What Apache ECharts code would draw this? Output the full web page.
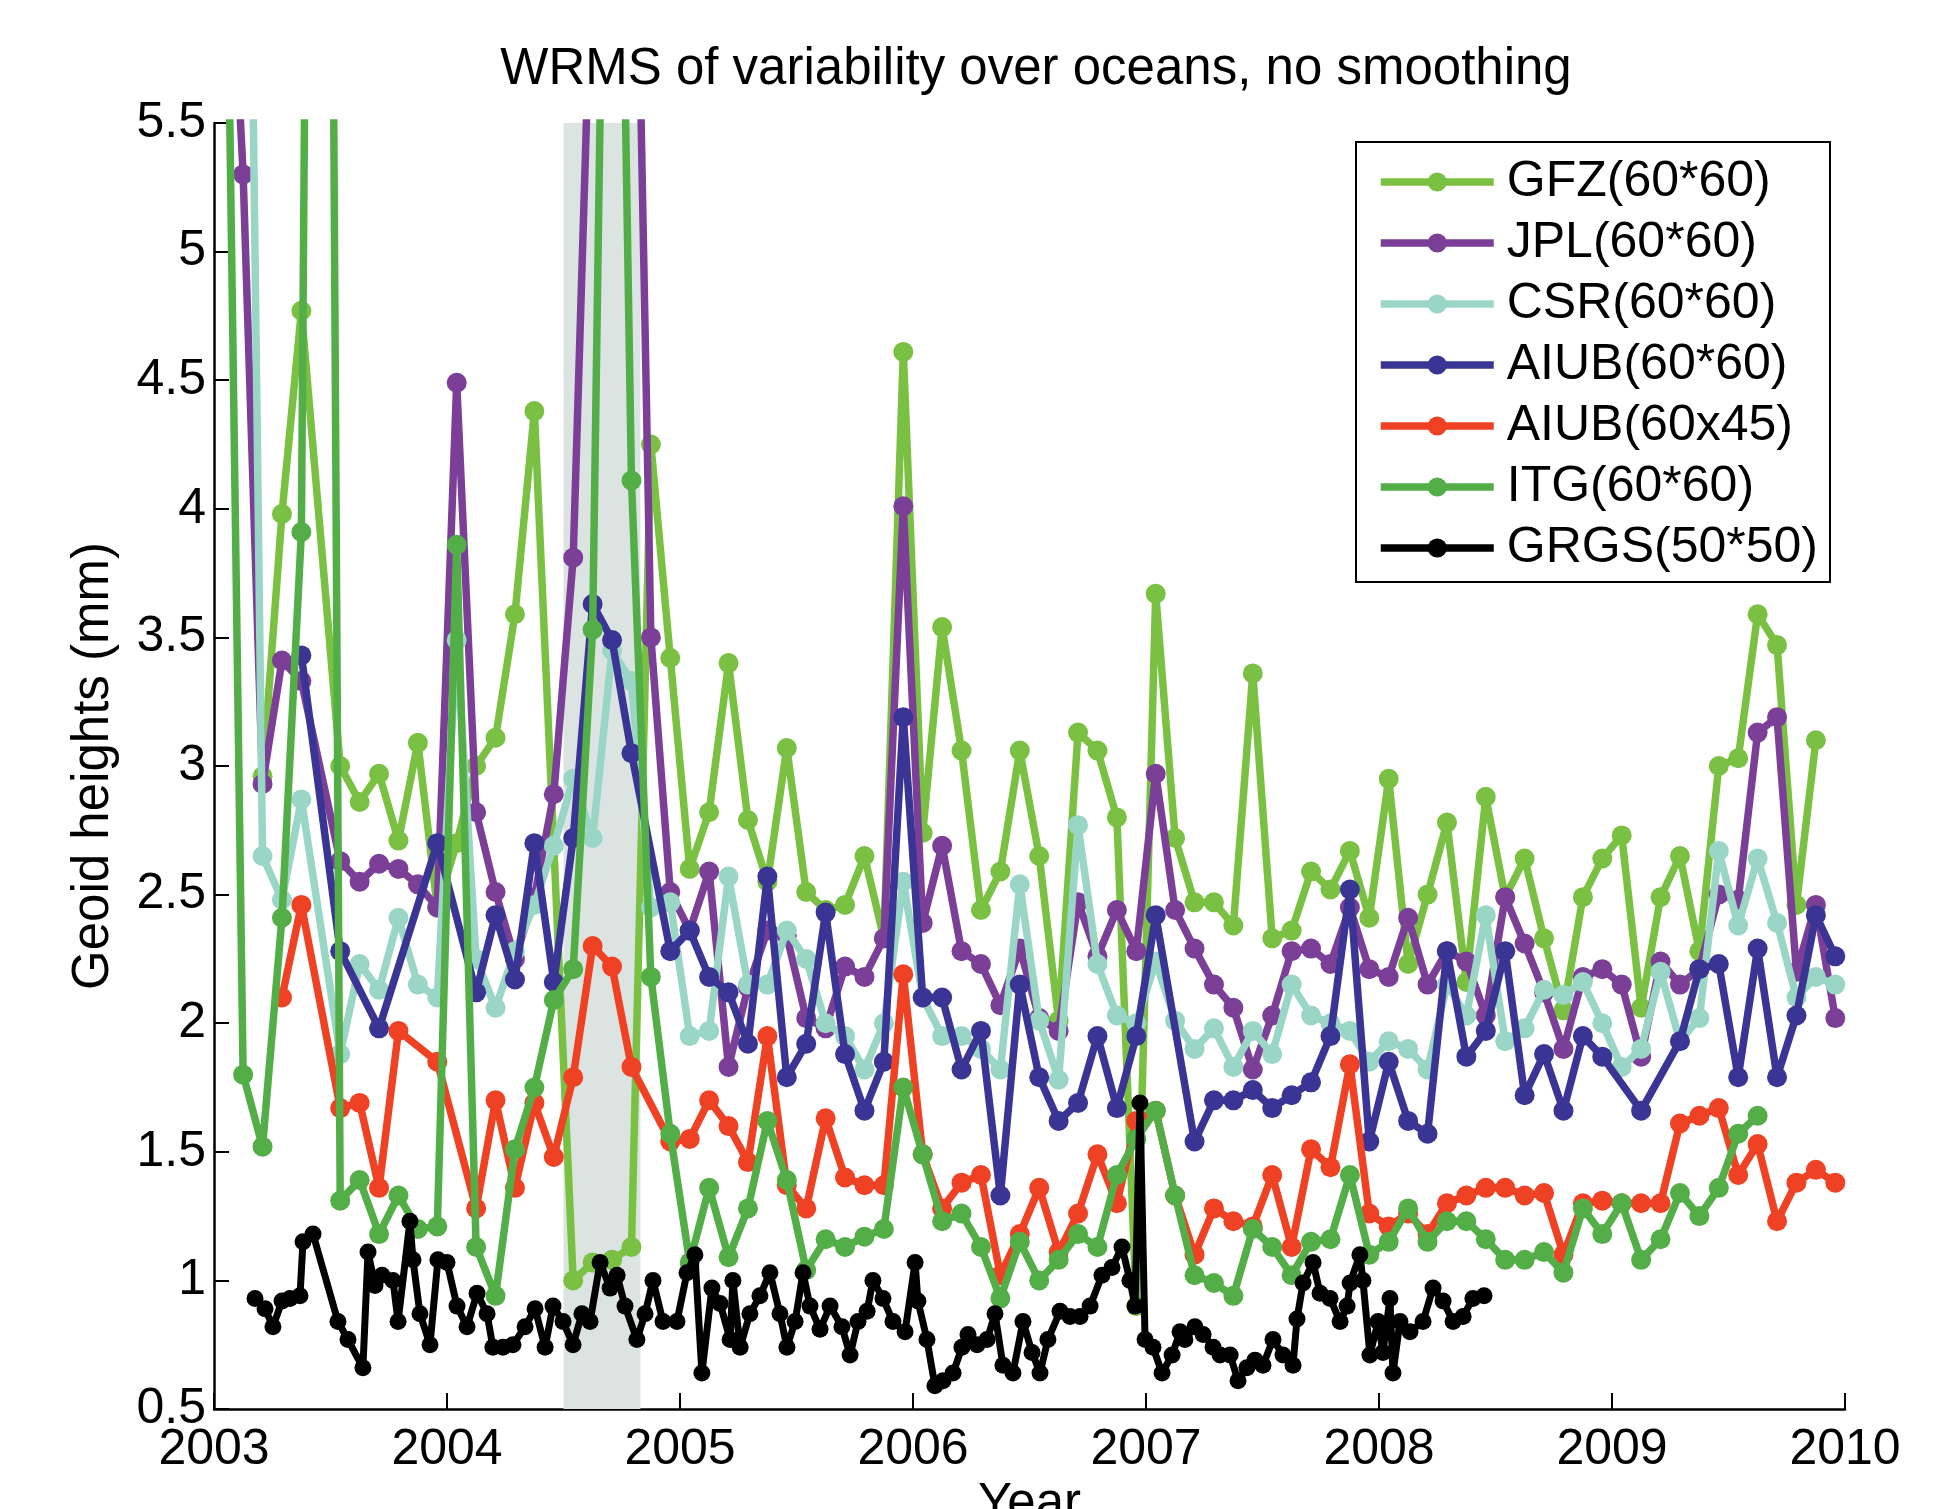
<!DOCTYPE html>
<html><head><meta charset="utf-8">
<script src="https://cdn.jsdelivr.net/npm/echarts@6/dist/echarts.min.js"></script>
<style>html,body{margin:0;padding:0;background:#fff}#c{width:1960px;height:1509px}</style>
</head><body><div id="c"></div>
<script>
const years = [2003, 2004, 2005, 2006, 2007, 2008, 2009];
const seriesNames = ['GFZ(60*60)', 'JPL(60*60)', 'CSR(60*60)', 'AIUB(60*60)', 'AIUB(60x45)', 'ITG(60*60)', 'GRGS(50*50)'];
const seriesColors = ['#7ac143', '#7b3f98', '#9ad6c6', '#3a3494', '#ef4123', '#53ae48', '#000000'];
const shadedPeriod = [2004.50, 2004.83];

// monthly values, Jan 2003 .. Dec 2009 (null = no solution)
const gfz = [
  null, null, 2.96, 3.98, 4.77, null, 3.00, 2.86, 2.97, 2.71, 3.09, 2.45,
  2.70, 3.00, 3.11, 3.59, 4.38, null, 1.00, 1.07, 1.08, 1.13, 4.25, 3.42,
  2.60, 2.82, 3.40, 2.79, 2.55, 3.07, 2.51, 2.44, 2.46, 2.65, 2.33, 4.61,
  2.74, 3.54, 3.06, 2.44, 2.59, 3.06, 2.65, 2.01, 3.13, 3.06, 2.80, 0.90,
  3.67, 2.72, 2.47, 2.47, 2.38, 3.36, 2.33, 2.36, 2.59, 2.52, 2.67, 2.41,
  2.95, 2.23, 2.50, 2.78, 2.16, 2.88, 2.49, 2.64, 2.33, 2.05, 2.49, 2.64,
  2.73, 2.06, 2.49, 2.65, 2.28, 3.00, 3.03, 3.59, 3.47, 2.46, 3.10, null
];
const jpl = [
  6.80, 5.30, 2.93, 3.41, 3.33, null, 2.63, 2.55, 2.62, 2.60, 2.54, 2.45,
  4.49, 2.82, 2.51, 2.25, 2.49, 2.89, 3.81, 6.30, 9.00, 7.50, 3.50, 2.51,
  2.36, 2.59, 1.83, 2.14, 2.36, 2.34, 2.02, 1.98, 2.22, 2.18, 2.33, 4.01,
  2.39, 2.69, 2.28, 2.23, 2.07, 2.29, 2.02, 1.97, 2.47, 2.26, 2.44, 2.28,
  2.97, 2.44, 2.29, 2.15, 2.06, 1.82, 2.03, 2.28, 2.29, 2.23, 2.45, 2.21,
  2.18, 2.41, 2.15, 2.28, 2.24, 2.03, 2.49, 2.31, 2.12, 1.90, 2.18, 2.21,
  2.15, 1.87, 2.24, 2.15, 2.21, 2.50, 2.48, 3.13, 3.19, 2.20, 2.46, 2.02
];
const csr = [
  null, 8.70, 2.65, 2.48, 2.87, null, 1.88, 2.23, 2.13, 2.41, 2.15, 2.10,
  3.49, 2.25, 2.06, 2.28, 2.46, 2.69, 2.95, 2.72, 3.45, 3.33, 2.45, 2.47,
  1.95, 1.97, 2.57, 2.15, 2.15, 2.36, 2.25, 2.00, 1.95, 1.82, 2.00, 2.55,
  2.10, 1.95, 1.95, 1.90, 1.82, 2.54, 2.01, 1.78, 2.77, 2.23, 2.03, 2.00,
  2.24, 2.01, 1.90, 1.98, 1.83, 1.97, 1.88, 2.15, 2.03, 2.00, 1.97, 1.85,
  1.93, 1.90, 1.82, 2.15, 2.03, 2.42, 1.93, 1.98, 2.13, 2.11, 2.16, 2.00,
  1.83, 1.90, 2.20, 1.93, 2.02, 2.67, 2.38, 2.64, 2.39, 2.10, 2.18, 2.15
];
const aiub60 = [
  null, null, null, null, 3.43, null, 2.28, null, 1.98, null, null, 2.70,
  null, 2.12, 2.42, 2.17, 2.70, 2.16, 2.72, 3.63, 3.49, 3.05, null, 2.28,
  2.36, 2.18, 2.12, 1.92, 2.57, 1.79, 1.92, 2.43, 1.88, 1.66, 1.85, 3.19,
  2.10, 2.10, 1.82, 1.97, 1.33, 2.15, 1.79, 1.62, 1.69, 1.95, 1.67, 1.95,
  2.42, null, 1.54, 1.70, 1.70, 1.74, 1.67, 1.72, 1.77, 1.95, 2.52, 1.54,
  1.85, 1.62, 1.57, 2.28, 1.87, 1.97, 2.28, 1.72, 1.88, 1.66, 1.95, 1.87,
  null, 1.66, null, 1.93, 2.21, 2.23, 1.79, 2.29, 1.79, 2.03, 2.42, 2.26
];
const aiub45 = [
  null, null, null, 2.10, 2.46, null, 1.67, 1.69, 1.36, 1.97, null, 1.85,
  null, 1.28, 1.70, 1.36, 1.69, 1.48, 1.79, 2.30, 2.22, 1.83, null, 1.54,
  1.55, 1.70, 1.60, 1.46, 1.95, 1.37, 1.28, 1.63, 1.40, 1.37, 1.37, 2.19,
  1.49, 1.28, 1.38, 1.41, 1.02, 1.18, 1.36, 1.11, 1.26, 1.49, 1.30, 1.62,
  1.66, 1.33, 1.10, 1.28, 1.23, 1.21, 1.41, 1.13, 1.51, 1.44, 1.84, 1.26,
  1.21, 1.26, 1.18, 1.30, 1.33, 1.36, 1.36, 1.33, 1.34, 1.10, 1.30, 1.31,
  1.30, 1.30, 1.30, 1.61, 1.64, 1.67, 1.41, 1.53, 1.23, 1.38, 1.43, 1.38
];
const itg = [
  7.20, 1.80, 1.52, 2.41, 3.91, 14.0, 1.31, 1.39, 1.18, 1.33, 1.20, 1.21,
  3.86, 1.13, 0.94, 1.51, 1.75, 2.09, 2.21, 3.53, 8.75, 4.11, 2.18, 1.57,
  1.07, 1.36, 1.09, 1.28, 1.62, 1.39, 1.04, 1.16, 1.13, 1.17, 1.20, 1.75,
  1.49, 1.23, 1.26, 1.13, 0.93, 1.15, 1.00, 1.08, 1.18, 1.13, 1.41, 1.55,
  1.66, 1.33, 1.02, 0.99, 0.94, 1.20, 1.13, 1.02, 1.15, 1.16, 1.41, 1.10,
  1.15, 1.28, 1.15, 1.23, 1.23, 1.16, 1.08, 1.08, 1.11, 1.03, 1.28, 1.18,
  1.30, 1.08, 1.16, 1.34, 1.25, 1.36, 1.57, 1.64, null, null, null, null
];
// GRGS 10-day solutions: epoch (decimal year) and value
const grgsEpoch = [
  2003.176, 2003.219, 2003.253, 2003.292, 2003.326, 2003.369, 2003.382, 2003.425,
  2003.532, 2003.575, 2003.639, 2003.661, 2003.691, 2003.721, 2003.768, 2003.790,
  2003.841, 2003.854, 2003.884, 2003.927, 2003.961, 2004.000, 2004.043, 2004.086,
  2004.129, 2004.172, 2004.197, 2004.240, 2004.283, 2004.335, 2004.378, 2004.421,
  2004.455, 2004.498, 2004.541, 2004.579, 2004.614, 2004.657, 2004.700, 2004.730,
  2004.764, 2004.815, 2004.850, 2004.884, 2004.927, 2004.987, 2005.030, 2005.064,
  2005.094, 2005.137, 2005.172, 2005.215, 2005.227, 2005.258, 2005.300, 2005.343,
  2005.386, 2005.429, 2005.459, 2005.494, 2005.528, 2005.558, 2005.601, 2005.644,
  2005.695, 2005.730, 2005.764, 2005.803, 2005.828, 2005.871, 2005.914, 2005.966,
  2006.009, 2006.021, 2006.060, 2006.094, 2006.129, 2006.172, 2006.210, 2006.236,
  2006.275, 2006.318, 2006.352, 2006.386, 2006.429, 2006.472, 2006.511, 2006.545,
  2006.579, 2006.631, 2006.674, 2006.717, 2006.760, 2006.811, 2006.854, 2006.897,
  2006.931, 2006.953, 2006.974, 2006.996, 2007.030, 2007.069, 2007.112, 2007.146,
  2007.167, 2007.210, 2007.245, 2007.288, 2007.318, 2007.361, 2007.395, 2007.433,
  2007.468, 2007.502, 2007.545, 2007.588, 2007.631, 2007.648, 2007.674, 2007.717,
  2007.747, 2007.790, 2007.833, 2007.863, 2007.876, 2007.918, 2007.931, 2007.961,
  2007.996, 2008.017, 2008.047, 2008.060, 2008.090, 2008.133, 2008.189, 2008.232,
  2008.275, 2008.318, 2008.361, 2008.403, 2008.451
];
const grgsVal = [
  0.93, 0.89, 0.82, 0.92, 0.93, 0.94, 1.15, 1.18,
  0.84, 0.77, 0.66, 1.11, 0.98, 1.02, 1.00, 0.84,
  1.23, 1.08, 0.87, 0.75, 1.08, 1.07, 0.90, 0.82,
  0.95, 0.87, 0.74, 0.74, 0.75, 0.82, 0.89, 0.74,
  0.90, 0.84, 0.75, 0.87, 0.84, 1.07, 0.97, 1.02,
  0.90, 0.77, 0.87, 1.00, 0.84, 0.84, 1.03, 1.10,
  0.64, 0.97, 0.91, 0.77, 1.00, 0.74, 0.87, 0.94,
  1.03, 0.87, 0.74, 0.84, 1.03, 0.90, 0.81, 0.90,
  0.82, 0.71, 0.84, 0.88, 1.00, 0.93, 0.84, 0.80,
  1.07, 0.92, 0.77, 0.59, 0.61, 0.64, 0.74, 0.79,
  0.75, 0.77, 0.87, 0.67, 0.64, 0.84, 0.72, 0.64,
  0.77, 0.88, 0.86, 0.86, 0.90, 1.02, 1.05, 1.13,
  1.00, 0.90, 1.69, 0.77, 0.74, 0.64, 0.71, 0.80,
  0.77, 0.82, 0.79, 0.74, 0.71, 0.71, 0.61, 0.66,
  0.69, 0.67, 0.77, 0.71, 0.67, 0.85, 0.99, 1.07,
  0.95, 0.93, 0.84, 0.90, 0.99, 1.10, 1.00, 0.71,
  0.84, 0.72, 0.93, 0.64, 0.84, 0.80, 0.84, 0.97,
  0.92, 0.84, 0.86, 0.93, 0.94
];

const monthEpochs = [];
years.forEach(y => { for (let m = 1; m <= 12; m++) monthEpochs.push(y + (m - 0.5) / 12); });
function monthly(vals) {
  const out = [];
  vals.forEach((v, i) => { if (v !== null) out.push([monthEpochs[i], v]); });
  return out;
}
const grgs = grgsEpoch.map((t, i) => [t, grgsVal[i]]);
const allData = [monthly(gfz), monthly(jpl), monthly(csr), monthly(aiub60), monthly(aiub45), monthly(itg), grgs];

const FONT = 'Liberation Sans, Arial, Helvetica, sans-serif';
const series = [{
  type: 'line', data: [], silent: true,
  markArea: { silent: true, itemStyle: { color: '#dbe4e1' },
    data: [[{ xAxis: shadedPeriod[0] }, { xAxis: shadedPeriod[1] }]] }
}];
allData.forEach((d, i) => {
  const black = i === 6;
  series.push({
    name: seriesNames[i], type: 'line', data: d,
    symbol: 'circle', symbolSize: black ? 17 : 20,
    showAllSymbol: true, clip: true,
    lineStyle: { color: seriesColors[i], width: black ? 7 : 7.5 },
    itemStyle: { color: seriesColors[i] },
    emphasis: { disabled: true }, animation: false, z: 2 + i
  });
});

const chart = echarts.init(document.getElementById('c'), null, { renderer: 'canvas' });
chart.setOption({
  animation: false,
  backgroundColor: '#ffffff',
  title: {
    text: 'WRMS of variability over oceans, no smoothing',
    left: 1031, top: 39, textAlign: 'center',
    textStyle: { fontFamily: FONT, fontSize: 51, fontWeight: 'normal', color: '#000' }
  },
  legend: {
    data: seriesNames, orient: 'vertical', left: 1356, top: 142,
    padding: [15, 12, 9, 21], itemGap: 11, itemWidth: 113, itemHeight: 24,
    lineStyle: { width: 7.5 },
    borderColor: '#000', borderWidth: 2, backgroundColor: '#fff',
    textStyle: { fontFamily: FONT, fontSize: 50, color: '#000', padding: [0, 0, 0, 8] }
  },
  grid: { left: 214, right: 115, top: 123, bottom: 100, containLabel: false, outerBoundsMode: 'none' },
  xAxis: {
    type: 'value', min: 2003, max: 2010, interval: 1,
    name: 'Year', nameLocation: 'middle', nameGap: 65,
    nameTextStyle: { fontFamily: FONT, fontSize: 51, color: '#000' },
    axisLine: { onZero: false, lineStyle: { color: '#000', width: 2.5 } },
    axisTick: { inside: true, length: 16, lineStyle: { color: '#000', width: 2 } },
    axisLabel: { fontFamily: FONT, fontSize: 50, color: '#000', margin: 16, formatter: v => String(v) },
    splitLine: { show: false }
  },
  yAxis: {
    type: 'value', min: 0.5, max: 5.5, interval: 0.5,
    name: 'Geoid heights (mm)', nameLocation: 'middle', nameGap: 95, nameRotate: 90,
    nameTextStyle: { fontFamily: FONT, fontSize: 51, color: '#000' },
    axisLine: { show: true, lineStyle: { color: '#000', width: 2.5 } },
    axisTick: { show: true, inside: true, length: 15, lineStyle: { color: '#000', width: 2 } },
    axisLabel: { fontFamily: FONT, fontSize: 50, color: '#000', margin: 8, formatter: v => String(+v.toFixed(1)) },
    splitLine: { show: false }
  },
  series: series
});
</script>
</body></html>
